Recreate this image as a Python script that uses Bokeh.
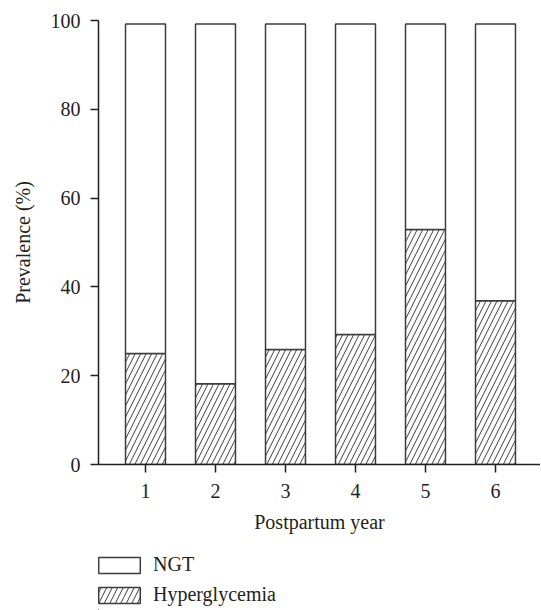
from bokeh.plotting import figure
from bokeh.layouts import column
from bokeh.models import ColumnDataSource, Legend, LegendItem, FixedTicker, Range1d
from bokeh.embed import file_html
from bokeh.resources import INLINE

# Data
years = [1, 2, 3, 4, 5, 6]
year_labels = ["1", "2", "3", "4", "5", "6"]
hyperglycemia = [25.0, 18.2, 25.9, 29.3, 52.9, 36.9]
total = [99.2, 99.2, 99.2, 99.2, 99.2, 99.2]
ngt = [t - h for t, h in zip(total, hyperglycemia)]
y_ticks = [0, 20, 40, 60, 80, 100]
series_labels = ["NGT", "Hyperglycemia"]

FONT = "Liberation Serif"
TXT = "#231f20"
EDGE = "#3c3c3c"
STYLE = dict(fill_color="white", line_color=EDGE, line_width=1.5,
             hatch_color=EDGE, hatch_weight=1, hatch_scale=11)

source = ColumnDataSource(dict(year=years, hyper=hyperglycemia, ngt=ngt))

p = figure(frame_width=442, frame_height=444, output_backend="svg",
           toolbar_location=None, x_range=Range1d(0.3286, 6.643),
           y_range=Range1d(0, 100),
           min_border_left=98, min_border_right=0, min_border_top=20,
           min_border_bottom=80)

p.vbar_stack(["hyper", "ngt"], x="year", width=0.571, source=source,
             hatch_pattern=["/", " "], **STYLE)

p.outline_line_color = None
p.xgrid.grid_line_color = None
p.ygrid.grid_line_color = None
p.background_fill_color = "white"
p.border_fill_color = "white"

for ax in (p.xaxis[0], p.yaxis[0]):
    ax.axis_line_color = TXT
    ax.axis_line_width = 1.5
    ax.major_tick_line_color = TXT
    ax.major_tick_line_width = 1.5
    ax.major_tick_out = 8
    ax.major_tick_in = 0
    ax.minor_tick_line_color = None
    ax.major_label_text_font = FONT
    ax.major_label_text_font_size = "20px"
    ax.major_label_text_color = TXT
    ax.axis_label_text_font = FONT
    ax.axis_label_text_font_size = "20px"
    ax.axis_label_text_font_style = "normal"
    ax.axis_label_text_color = TXT

p.xaxis.ticker = FixedTicker(ticks=years)
p.xaxis.major_label_overrides = {y: l for y, l in zip(years, year_labels)}
p.yaxis.ticker = FixedTicker(ticks=y_ticks)
p.xaxis.axis_label = "Postpartum year"
p.yaxis.axis_label = "Prevalence (%)"
p.xaxis.major_label_standoff = 11
p.yaxis.major_label_standoff = 10
p.xaxis.axis_label_standoff = 10
p.yaxis.axis_label_standoff = 14

# Legend strip below the chart (same series, kept out of view; only the legend shows)
lf = figure(width=540, height=66, output_backend="svg", toolbar_location=None,
            x_axis_type=None, y_axis_type=None,
            min_border_left=98, min_border_right=0, min_border_top=0,
            min_border_bottom=0,
            x_range=Range1d(1000, 1001), y_range=Range1d(1000, 1001))
lf.grid.visible = False
lf.outline_line_color = None
lf.border_fill_color = "white"
lf.background_fill_color = "white"
r_hyp, r_ngt = lf.vbar_stack(["hyper", "ngt"], x="year", width=0.571, source=source,
                             hatch_pattern=["/", " "], **STYLE)

legend = Legend(items=[LegendItem(label=series_labels[0], renderers=[r_ngt]),
                       LegendItem(label=series_labels[1], renderers=[r_hyp])],
                location=(-5, 4), orientation="vertical",
                border_line_color=None, background_fill_alpha=0,
                margin=0, padding=0, spacing=7,
                glyph_width=52, glyph_height=20, label_standoff=8,
                label_text_font=FONT, label_text_font_size="20px",
                label_text_color=TXT)
lf.add_layout(legend)

layout = column(p, lf, spacing=0)
open("out.html", "w").write(file_html(layout, INLINE))
